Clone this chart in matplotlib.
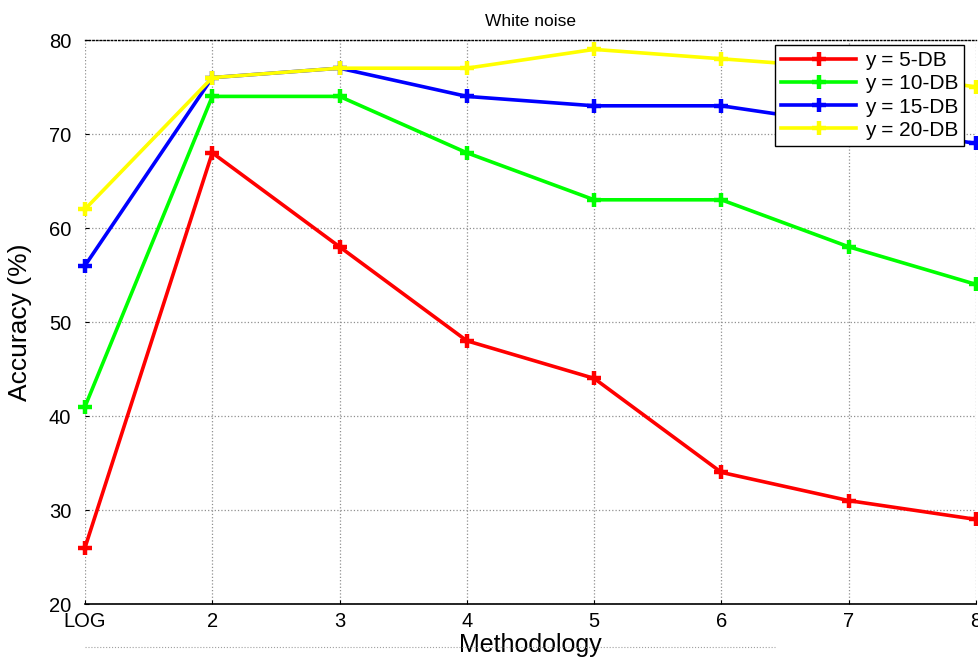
import matplotlib.pyplot as plt
from matplotlib.lines import Line2D

plt.rcParams['font.family'] = ['Liberation Sans', 'DejaVu Sans']

# methods on the x axis
methods = ["LOG", "2", "3", "4", "5", "6", "7", "8"]
x = list(range(1, 9))

# accuracy (%) per noise level
acc_5db = [26, 68, 58, 48, 44, 34, 31, 29]
acc_10db = [41, 74, 74, 68, 63, 63, 58, 54]
acc_15db = [56, 76, 77, 74, 73, 73, 71, 69]
acc_20db = [62, 76, 77, 77, 79, 78, 77, 75]

series = [
    ("y = 5-DB", acc_5db, "#ff0000"),
    ("y = 10-DB", acc_10db, "#00ff00"),
    ("y = 15-DB", acc_15db, "#0000ff"),
    ("y = 20-DB", acc_20db, "#ffff00"),
]

fig = plt.figure(figsize=(9.79, 6.66), dpi=100)
ax = fig.add_axes([85 / 979, 62 / 666, 891 / 979, 564 / 666])

for name, vals, col in series:
    ax.plot(x, vals, color=col, lw=2.6, marker="+", ms=10, mew=3.2, label=name,
            clip_on=False, zorder=3)

ax.set_xlim(1, 8)
ax.set_ylim(20, 80)
ax.set_xticks(x)
ax.set_xticklabels(methods)
ax.set_yticks(range(20, 81, 10))
ax.tick_params(labelsize=14.5, length=3, direction="in", color="black")
ax.tick_params(axis="x", pad=6)
ax.tick_params(axis="y", pad=10)

ax.grid(True, linestyle=":", color="#909090", lw=0.9)
for s in ["left", "right"]:
    ax.spines[s].set_visible(False)
ax.spines["top"].set_linestyle(":")
ax.spines["top"].set_linewidth(1.0)
ax.spines["bottom"].set_linewidth(1.2)

ax.set_title("White noise", fontsize=12.5, pad=10)
ax.set_xlabel("Methodology", fontsize=18, labelpad=1)
ax.set_ylabel("Accuracy (%)", fontsize=19, labelpad=12)

leg = ax.legend(loc="upper left", bbox_to_anchor=(690 / 891, 1 - 5 / 564),
                fontsize=15, handlelength=3.6, borderpad=0.3, labelspacing=0.2,
                handletextpad=0.4, fancybox=False, framealpha=1,
                edgecolor="black", borderaxespad=0)
leg.get_frame().set_linewidth(1.0)
leg.set_zorder(5)

# faint dotted rule under the axis label
fig.add_artist(Line2D([85 / 979, 775 / 979], [19 / 666, 19 / 666],
                      color="#a0a0a0", lw=0.8, ls=":"))

fig.savefig("out.png", dpi=100)
